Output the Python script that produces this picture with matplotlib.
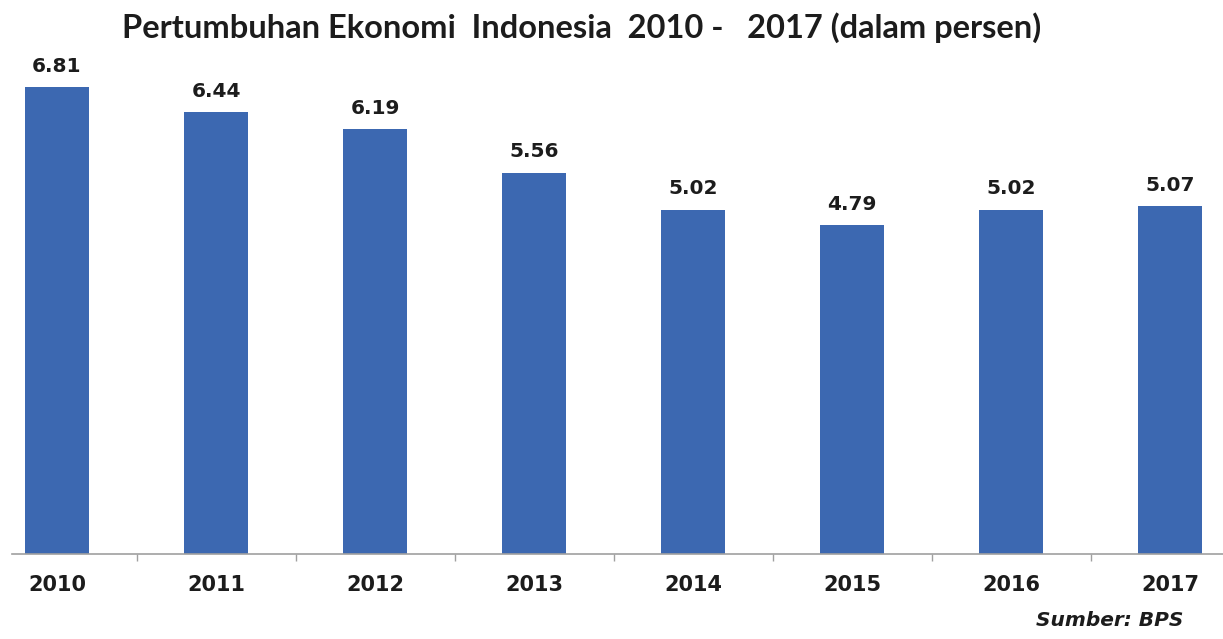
import matplotlib
matplotlib.use("Agg")
import matplotlib.pyplot as plt
import numpy as np

years = ["2010", "2011", "2012", "2013", "2014", "2015", "2016", "2017"]
growth = [6.81, 6.44, 6.19, 5.56, 5.02, 4.79, 5.02, 5.07]

TITLE = "Pertumbuhan Ekonomi  Indonesia  2010 -   2017 (dalam persen)"
SOURCE = "Sumber: BPS"
BAR_COLOR = "#3c68b1"
TEXT_COLOR = "#1c1c1c"


def main():
    fig = plt.figure(figsize=(12.23, 6.39), dpi=100)
    ax = fig.add_axes([12 / 1223, 85 / 639, 1211 / 1223, 494 / 639])

    x = np.arange(len(years))
    bars = ax.bar(x, growth, width=0.40, color=BAR_COLOR)

    for rect, val in zip(bars, growth):
        ax.annotate(f"{val:.2f}",
                    (rect.get_x() + rect.get_width() / 2, rect.get_height()),
                    xytext=(0, 8), textcoords="offset points",
                    ha="center", va="bottom", fontsize=14.5,
                    fontweight="bold", color=TEXT_COLOR)

    ax.set_xlim(-0.283, 7.333)
    ax.set_ylim(0, 7.2)

    # category labels at bar centres, tick marks between categories
    ax.set_xticks(x)
    ax.set_xticklabels(years, fontsize=15, fontweight="bold", color=TEXT_COLOR)
    ax.tick_params(axis="x", which="major", length=0, pad=15)
    ax.set_xticks(x[:-1] + 0.5, minor=True)
    ax.tick_params(axis="x", which="minor", length=5, width=1, color="#a0a0a0")

    ax.set_yticks([])
    for side in ["top", "right", "left"]:
        ax.spines[side].set_visible(False)
    ax.spines["bottom"].set_color("#a0a0a0")
    ax.spines["bottom"].set_linewidth(1.2)

    fig.text(582 / 1223, 1 - 28 / 639, TITLE, ha="center", va="center",
             fontsize=23.5, fontweight="bold", family="Lato", color=TEXT_COLOR)
    fig.text(1183 / 1223, 1 - 621 / 639, SOURCE, ha="right", va="center",
             fontsize=14.5, fontweight="bold", style="italic", color=TEXT_COLOR)

    fig.savefig("out.png", dpi=100, facecolor="white")


if __name__ == "__main__":
    main()
